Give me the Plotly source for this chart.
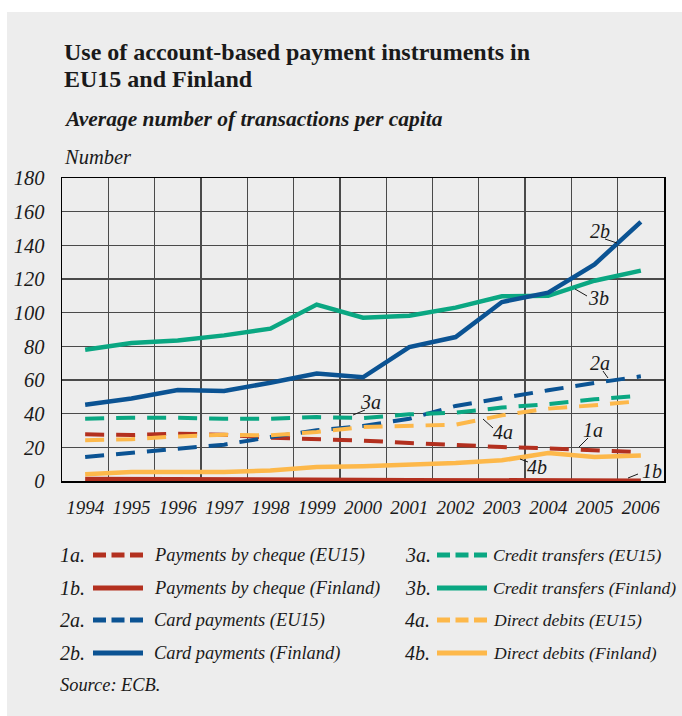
import plotly.graph_objects as go

# ---------------- data ----------------
years = [1994, 1995, 1996, 1997, 1998, 1999, 2000, 2001, 2002, 2003, 2004, 2005, 2006]
cheque_eu15 = [27.7, 27.3, 28.1, 27.5, 25.7, 25.0, 24.0, 22.6, 21.2, 20.2, 19.4, 18.2, 17.2]
cheque_fin = [1.2, 1.2, 1.1, 1.0, 0.9, 0.7, 0.6, 0.5, 0.5, 0.4, 0.3, 0.3, 0.2]
card_eu15 = [14.3, 16.6, 19.0, 21.6, 26.1, 30.1, 32.7, 37.0, 44.6, 49.5, 53.9, 58.2, 62.2]
card_fin = [45.3, 49.0, 54.0, 53.5, 58.4, 63.8, 61.6, 79.6, 85.5, 106.3, 111.9, 128.7, 153.9]
credit_eu15 = [37.0, 37.6, 37.6, 37.0, 37.0, 38.0, 37.4, 39.6, 40.6, 43.6, 45.7, 48.5, 50.7]
credit_fin = [78.0, 82.0, 83.4, 86.5, 90.5, 104.8, 97.0, 98.2, 103.0, 109.7, 110.0, 119.0, 125.0]
dd_eu15 = [24.2, 24.8, 26.5, 27.5, 27.1, 29.1, 32.1, 32.9, 33.5, 39.0, 43.0, 45.0, 47.5]
dd_fin = [4.0, 5.3, 5.3, 5.3, 6.3, 8.3, 8.8, 9.7, 10.7, 12.3, 16.6, 14.3, 15.2]
y_ticks = [0, 20, 40, 60, 80, 100, 120, 140, 160, 180]

codes = ["1a.", "1b.", "2a.", "2b.", "3a.", "3b.", "4a.", "4b."]
names = ["Payments by cheque (EU15)", "Payments by cheque (Finland)",
         "Card payments (EU15)", "Card payments (Finland)",
         "Credit transfers (EU15)", "Credit transfers (Finland)",
         "Direct debits (EU15)", "Direct debits (Finland)"]

RED, BLUE, GREEN, ORANGE = "#b3301f", "#0b5393", "#0aa782", "#fdb84a"
BG = "#ededed"
TXT = "#1a1a1a"
GRID = "#4a4a4a"
FONT = "Liberation Serif"

W, H = 682, 716
L, R, T, B = 62, 664, 178, 481


def px(x):
    return (x - L) / (R - L)


def py(y):
    return (B - y) / (B - T)


fig = go.Figure()

series = [
    (cheque_eu15, RED, True), (card_eu15, BLUE, True), (dd_eu15, ORANGE, True),
    (credit_eu15, GREEN, True),
    (cheque_fin, RED, False), (dd_fin, ORANGE, False),
    (credit_fin, GREEN, False), (card_fin, BLUE, False),
]
for vals, col, dashed in series:
    fig.add_trace(go.Scatter(
        x=years, y=vals, mode="lines", showlegend=False, hoverinfo="skip",
        line=dict(color=col, width=4 if dashed else 4.5,
                  dash="19px,12px" if dashed else "solid"),
    ))

shapes = []
annotations = []

# white strips at top and left of the grey panel
shapes.append(dict(type="rect", xref="paper", yref="paper", x0=px(0), x1=px(W),
                   y0=py(0), y1=py(12), fillcolor="white", line=dict(width=0), layer="below"))
shapes.append(dict(type="rect", xref="paper", yref="paper", x0=px(0), x1=px(7),
                   y0=py(0), y1=py(H), fillcolor="white", line=dict(width=0), layer="below"))

annotations.append(dict(text="<b>Use of account-based payment instruments in</b>", x=px(62), y=py(51.5),
                        xanchor="left", yanchor="middle", font=dict(size=24, family=FONT, color=TXT)))
annotations.append(dict(text="<b>EU15 and Finland</b>", x=px(62), y=py(78.5),
                        xanchor="left", yanchor="middle", font=dict(size=24, family=FONT, color=TXT)))
annotations.append(dict(text="<b><i>Average number of transactions per capita</i></b>", x=px(62), y=py(119),
                        xanchor="left", yanchor="middle", font=dict(size=21.5, family=FONT, color=TXT)))
annotations.append(dict(text="<i>Number</i>", x=px(62), y=py(157),
                        xanchor="left", yanchor="middle", font=dict(size=20.5, family=FONT, color=TXT)))

labels = [
    ("2b", 600, 231, 605, 239, 617, 243),
    ("3b", 598, 298, 587, 296, 575, 289),
    ("2a", 600, 363, 603, 371, 608, 378),
    ("3a", 370, 402, 365, 410, 353, 415),
    ("4a", 503, 432, 493, 428, 483, 419),
    ("1a", 593, 430, 588, 438, 579, 447),
    ("4b", 537, 467, 528, 462, 520, 459),
    ("1b", 652, 471, 638, 474, 628, 478),
]
for t, cx, cy, x0, y0, x1, y1 in labels:
    annotations.append(dict(text=f"<i>{t}</i>", x=px(cx), y=py(cy), xanchor="center", yanchor="middle",
                            font=dict(size=20, family=FONT, color=TXT)))
    shapes.append(dict(type="line", xref="paper", yref="paper", x0=px(x0), y0=py(y0),
                       x1=px(x1), y1=py(y1), line=dict(color=TXT, width=1)))

leg_cols = [RED, RED, BLUE, BLUE, GREEN, GREEN, ORANGE, ORANGE]
row_y = [555, 588, 620, 653]
for i, (code, name, col) in enumerate(zip(codes, names, leg_cols)):
    c = i // 4
    r = i % 4
    y = row_y[r]
    cx = 58 if c == 0 else 403
    sx0, sx1 = (93, 143) if c == 0 else (437, 487)
    tx = 152 if c == 0 else 491
    annotations.append(dict(text=f"<i>{code}</i>", x=px(cx), y=py(y), xanchor="left", yanchor="middle",
                            font=dict(size=20, family=FONT, color=TXT)))
    dashed = code.endswith("a.")
    shapes.append(dict(type="line", xref="paper", yref="paper", x0=px(sx0), x1=px(sx1),
                       y0=py(y), y1=py(y),
                       line=dict(color=col, width=5, dash="13px,5.5px" if dashed else "solid")))
    annotations.append(dict(text=f"<i>{name}</i>", x=px(tx), y=py(y), xanchor="left", yanchor="middle",
                            font=dict(size=18.4 if c == 0 else 17.6, family=FONT, color=TXT)))

annotations.append(dict(text="<i>Source: ECB.</i>", x=px(58), y=py(685), xanchor="left", yanchor="middle",
                        font=dict(size=18.4, family=FONT, color=TXT)))

for a in annotations:
    a.setdefault("xref", "paper")
    a.setdefault("yref", "paper")
    a.setdefault("showarrow", False)

fig.update_layout(
    width=W, height=H,
    margin=dict(l=L, r=W - R, t=T, b=H - B, pad=0),
    paper_bgcolor=BG, plot_bgcolor=BG,
    shapes=shapes, annotations=annotations,
    font=dict(family=FONT, color=TXT),
)
fig.update_xaxes(
    range=[1993.5, 2006.5], tickvals=years, ticktext=[f"<i>{y}</i>" for y in years],
    showgrid=False, showline=True, mirror=True, linecolor="black", linewidth=1.5,
    ticks="", tickfont=dict(size=19, family=FONT, color=TXT), ticklabelstandoff=9,
    minor=dict(tick0=0.5, dtick=1, showgrid=True, gridcolor=GRID, gridwidth=1.3),
    zeroline=False,
)
fig.update_yaxes(
    range=[0, 180], tickvals=y_ticks,
    ticktext=[f"<i>{v}</i>" for v in y_ticks],
    showgrid=True, gridcolor=GRID, gridwidth=1.3,
    showline=True, mirror=True, linecolor="black", linewidth=1.5,
    ticks="", tickfont=dict(size=20.5, family=FONT, color=TXT), ticklabelstandoff=12,
    zeroline=False,
)

fig.write_html(
    "out.html",
    config={"displayModeBar": False, "staticPlot": True},
    post_script=(
        "document.body.style.margin='0';"
        "document.documentElement.style.overflow='hidden';"
        f"document.body.style.background='{BG}';"
        f"document.documentElement.style.background='{BG}';"
    ),
)
